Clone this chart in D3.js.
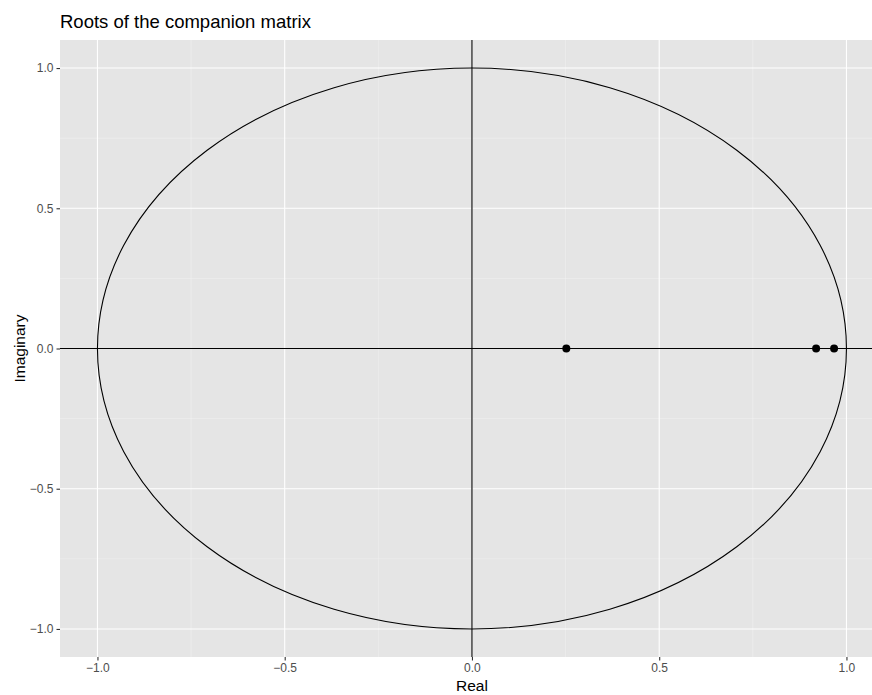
<!DOCTYPE html>
<html>
<head>
<meta charset="utf-8">
<script src="https://cdn.jsdelivr.net/npm/d3@7"></script>
<style>
  body { margin: 0; background: #fff; }
  text { font-family: "Liberation Sans", Arial, sans-serif; }
</style>
</head>
<body>
<svg id="chart" width="872" height="695"></svg>
<script>
// Roots of the companion matrix (all real)
const rootsRe = [0.252, 0.919, 0.967];
const rootsIm = [0, 0, 0];
const xTicks = [-1.0, -0.5, 0.0, 0.5, 1.0];
const yTicks = [-1.0, -0.5, 0.0, 0.5, 1.0];
const xMinor = [-0.75, -0.25, 0.25, 0.75];
const yMinor = [-0.75, -0.25, 0.25, 0.75];

const svg = d3.select("#chart");
const panel = { left: 60, top: 40, bottom: 657 };

const x = d3.scaleLinear().domain([-1.1, 1.1]).range([panel.left, panel.left + 2.2 * 374.5]);
const y = d3.scaleLinear().domain([-1.1, 1.1]).range([panel.bottom, panel.top]);

const pw = 872 - panel.left;
const ph = panel.bottom - panel.top;

svg.append("rect")
  .attr("x", panel.left).attr("y", panel.top)
  .attr("width", pw).attr("height", ph)
  .attr("fill", "#e5e5e5");

const grid = svg.append("g");
grid.selectAll(".xminor").data(xMinor).join("line")
  .attr("x1", d => x(d)).attr("x2", d => x(d))
  .attr("y1", panel.top).attr("y2", panel.bottom)
  .attr("stroke", "#f2f2f2").attr("stroke-width", 0.55);
grid.selectAll(".yminor").data(yMinor).join("line")
  .attr("y1", d => y(d)).attr("y2", d => y(d))
  .attr("x1", panel.left).attr("x2", 872)
  .attr("stroke", "#f2f2f2").attr("stroke-width", 0.55);
grid.selectAll(".xmajor").data(xTicks).join("line")
  .attr("x1", d => x(d)).attr("x2", d => x(d))
  .attr("y1", panel.top).attr("y2", panel.bottom)
  .attr("stroke", "#ffffff").attr("stroke-width", 1.1);
grid.selectAll(".ymajor").data(yTicks).join("line")
  .attr("y1", d => y(d)).attr("y2", d => y(d))
  .attr("x1", panel.left).attr("x2", 872)
  .attr("stroke", "#ffffff").attr("stroke-width", 1.1);

// Unit circle
svg.append("ellipse")
  .attr("cx", x(0)).attr("cy", y(0))
  .attr("rx", x(1) - x(0)).attr("ry", y(0) - y(1))
  .attr("fill", "none").attr("stroke", "#000").attr("stroke-width", 1.1);

// Real and imaginary axes
svg.append("line")
  .attr("x1", panel.left).attr("x2", 872)
  .attr("y1", y(0)).attr("y2", y(0))
  .attr("stroke", "#000").attr("stroke-width", 1.1);
svg.append("line")
  .attr("x1", x(0)).attr("x2", x(0))
  .attr("y1", panel.top).attr("y2", panel.bottom)
  .attr("stroke", "#000").attr("stroke-width", 1.1);

// Roots
svg.selectAll(".root").data(rootsRe).join("circle")
  .attr("cx", d => x(d)).attr("cy", (d, i) => y(rootsIm[i]))
  .attr("r", 4).attr("fill", "#000");

// Axes
const fmt = d3.format(".1f");
const xAxis = svg.append("g")
  .attr("transform", `translate(0,${panel.bottom})`)
  .call(d3.axisBottom(x).tickValues(xTicks).tickFormat(fmt).tickSize(3.5).tickPadding(3));
const yAxis = svg.append("g")
  .attr("transform", `translate(${panel.left},0)`)
  .call(d3.axisLeft(y).tickValues(yTicks).tickFormat(fmt).tickSize(3.5).tickPadding(3));
[xAxis, yAxis].forEach(g => {
  g.select(".domain").remove();
  g.selectAll(".tick line").attr("stroke", "#333").attr("stroke-width", 1.1);
  g.selectAll(".tick text").attr("fill", "#4d4d4d").style("font-size", "12px")
    .style("font-family", "'Liberation Sans', Arial, sans-serif");
});

svg.append("text")
  .attr("x", panel.left).attr("y", 28)
  .attr("font-size", 18.5).attr("fill", "#000")
  .text("Roots of the companion matrix");

svg.append("text")
  .attr("x", panel.left + (x(1.1) - panel.left) / 2).attr("y", 691)
  .attr("text-anchor", "middle").attr("font-size", 15.5).attr("fill", "#000")
  .text("Real");

svg.append("text")
  .attr("transform", `translate(25,${(panel.top + panel.bottom) / 2}) rotate(-90)`)
  .attr("text-anchor", "middle").attr("font-size", 15.5).attr("fill", "#000")
  .text("Imaginary");
</script>
</body>
</html>
